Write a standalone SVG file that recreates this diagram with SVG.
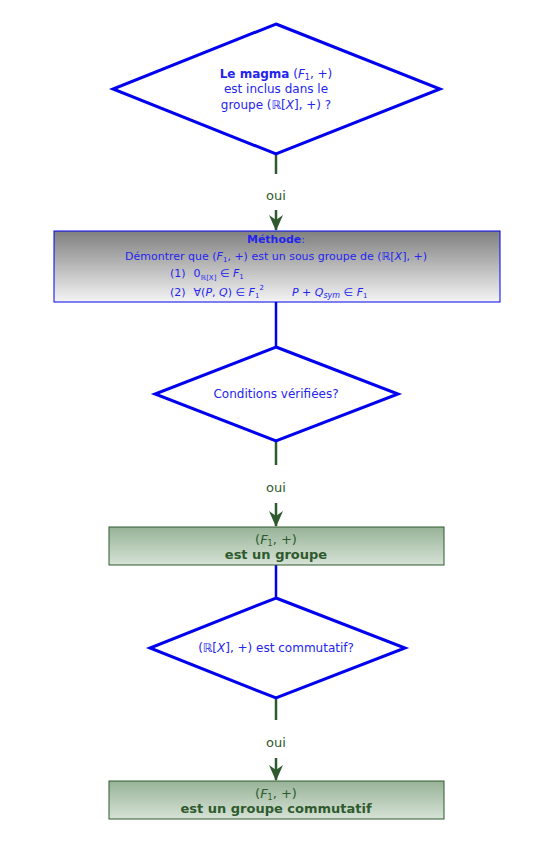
<svg xmlns="http://www.w3.org/2000/svg" width="547" height="848" viewBox="0 0 547 848">
<defs>
<linearGradient id="gGray" x1="0" y1="0" x2="0" y2="1"><stop offset="0" stop-color="#7f7f7f"/><stop offset="1" stop-color="#f4f4f4"/></linearGradient>
<linearGradient id="gGreen" x1="0" y1="0" x2="0" y2="1"><stop offset="0" stop-color="#97b397"/><stop offset="1" stop-color="#d6e2d6"/></linearGradient>
<marker id="arr" viewBox="0 0 16 14" refX="15" refY="7" markerWidth="16" markerHeight="14" markerUnits="userSpaceOnUse" orient="auto">
<path d="M0,0 L5,7 L0,14 L16,7 Z" fill="#2e5a2e"/>
</marker>
<style>
.dia{fill:#fff;stroke:#0000ee;stroke-width:3}
.bt{font-family:"DejaVu Sans","Liberation Sans",sans-serif;fill:#2424ee;text-anchor:middle}
.bs{font-family:"DejaVu Sans","Liberation Sans",sans-serif;fill:#2424ee;text-anchor:start}
.gt{font-family:"DejaVu Sans","Liberation Sans",sans-serif;fill:#2e5a2e;text-anchor:middle}
.m{font-style:italic}
.gl{stroke:#2e5a2e;stroke-width:2.5;fill:none}
.bl{stroke:#0000ee;stroke-width:2.5;fill:none}
</style>
</defs>
<g id="connectors">
<line class="gl" x1="276" y1="154" x2="276" y2="174"/>
<text class="gt" x="276" y="200" font-size="13">oui</text>
<line class="gl" x1="276" y1="210" x2="276" y2="230" marker-end="url(#arr)"/>
<line class="bl" x1="276" y1="302" x2="276" y2="347"/>
<line class="gl" x1="276" y1="441" x2="276" y2="465"/>
<text class="gt" x="276" y="492" font-size="13">oui</text>
<line class="gl" x1="276" y1="503" x2="276" y2="526" marker-end="url(#arr)"/>
<line class="bl" x1="276" y1="565" x2="276" y2="598"/>
<line class="gl" x1="276" y1="698" x2="276" y2="720"/>
<text class="gt" x="276" y="747" font-size="13">oui</text>
<line class="gl" x1="276" y1="758" x2="276" y2="780" marker-end="url(#arr)"/>
</g>
<g id="q1">
<polygon class="dia" points="276,24 440,89 276,154 113,89"/>
<text class="bt" x="276" y="78" font-size="12"><tspan font-weight="bold">Le magma</tspan> (<tspan class="m">F</tspan><tspan font-size="8" dy="2">1</tspan><tspan dy="-2">, +)</tspan></text>
<text class="bt" x="276" y="93" font-size="12">est inclus dans le</text>
<text class="bt" x="276" y="109" font-size="12">groupe (ℝ[<tspan class="m">X</tspan>], +) ?</text>
</g>
<g id="methode">
<rect x="54" y="231" width="446" height="71" fill="url(#gGray)" stroke="#0000ee" stroke-width="1"/>
<text class="bt" x="276" y="243" font-size="11"><tspan font-weight="bold">Méthode</tspan>:</text>
<text class="bt" x="276" y="260" font-size="11">Démontrer que (<tspan class="m">F</tspan><tspan font-size="7" dy="2">1</tspan><tspan dy="-2">, +) est un sous groupe de (ℝ[</tspan><tspan class="m">X</tspan>], +)</text>
<text class="bs" x="170" y="277" font-size="11">(1)<tspan dx="8">0</tspan><tspan font-size="7" dy="3">ℝ[X]</tspan><tspan dy="-3"> ∈ </tspan><tspan class="m">F</tspan><tspan font-size="7" dy="2">1</tspan></text>
<text class="bs" x="170" y="296" font-size="11">(2)<tspan dx="8">∀(</tspan><tspan class="m">P</tspan>, <tspan class="m">Q</tspan>) ∈ <tspan class="m">F</tspan><tspan font-size="7" dy="2">1</tspan><tspan font-size="7" dy="-8">2</tspan><tspan dy="6" dx="28" class="m">P</tspan><tspan> + </tspan><tspan class="m">Q</tspan><tspan font-size="8" dy="2" class="m">sym</tspan><tspan dy="-2"> ∈ </tspan><tspan class="m">F</tspan><tspan font-size="7" dy="2">1</tspan></text>
</g>
<g id="q2">
<polygon class="dia" points="276,347 398,394 276,441 155,394"/>
<text class="bt" x="276" y="398" font-size="12">Conditions vérifiées?</text>
</g>
<g id="groupe">
<rect x="109" y="527" width="335" height="38" fill="url(#gGreen)" stroke="#2e5a2e" stroke-width="1"/>
<text class="gt" x="276" y="544" font-size="13">(<tspan class="m">F</tspan><tspan font-size="8" dy="2">1</tspan><tspan dy="-2">, +)</tspan></text>
<text class="gt" x="276" y="559" font-size="13" font-weight="bold">est un groupe</text>
</g>
<g id="q3">
<polygon class="dia" points="276,598 405,648 276,698 150,648"/>
<text class="bt" x="276" y="652" font-size="12">(ℝ[<tspan class="m">X</tspan>], +) est commutatif?</text>
</g>
<g id="commutatif">
<rect x="109" y="781" width="335" height="38" fill="url(#gGreen)" stroke="#2e5a2e" stroke-width="1"/>
<text class="gt" x="276" y="798" font-size="13">(<tspan class="m">F</tspan><tspan font-size="8" dy="2">1</tspan><tspan dy="-2">, +)</tspan></text>
<text class="gt" x="276" y="813" font-size="13" font-weight="bold">est un groupe commutatif</text>
</g>
</svg>
